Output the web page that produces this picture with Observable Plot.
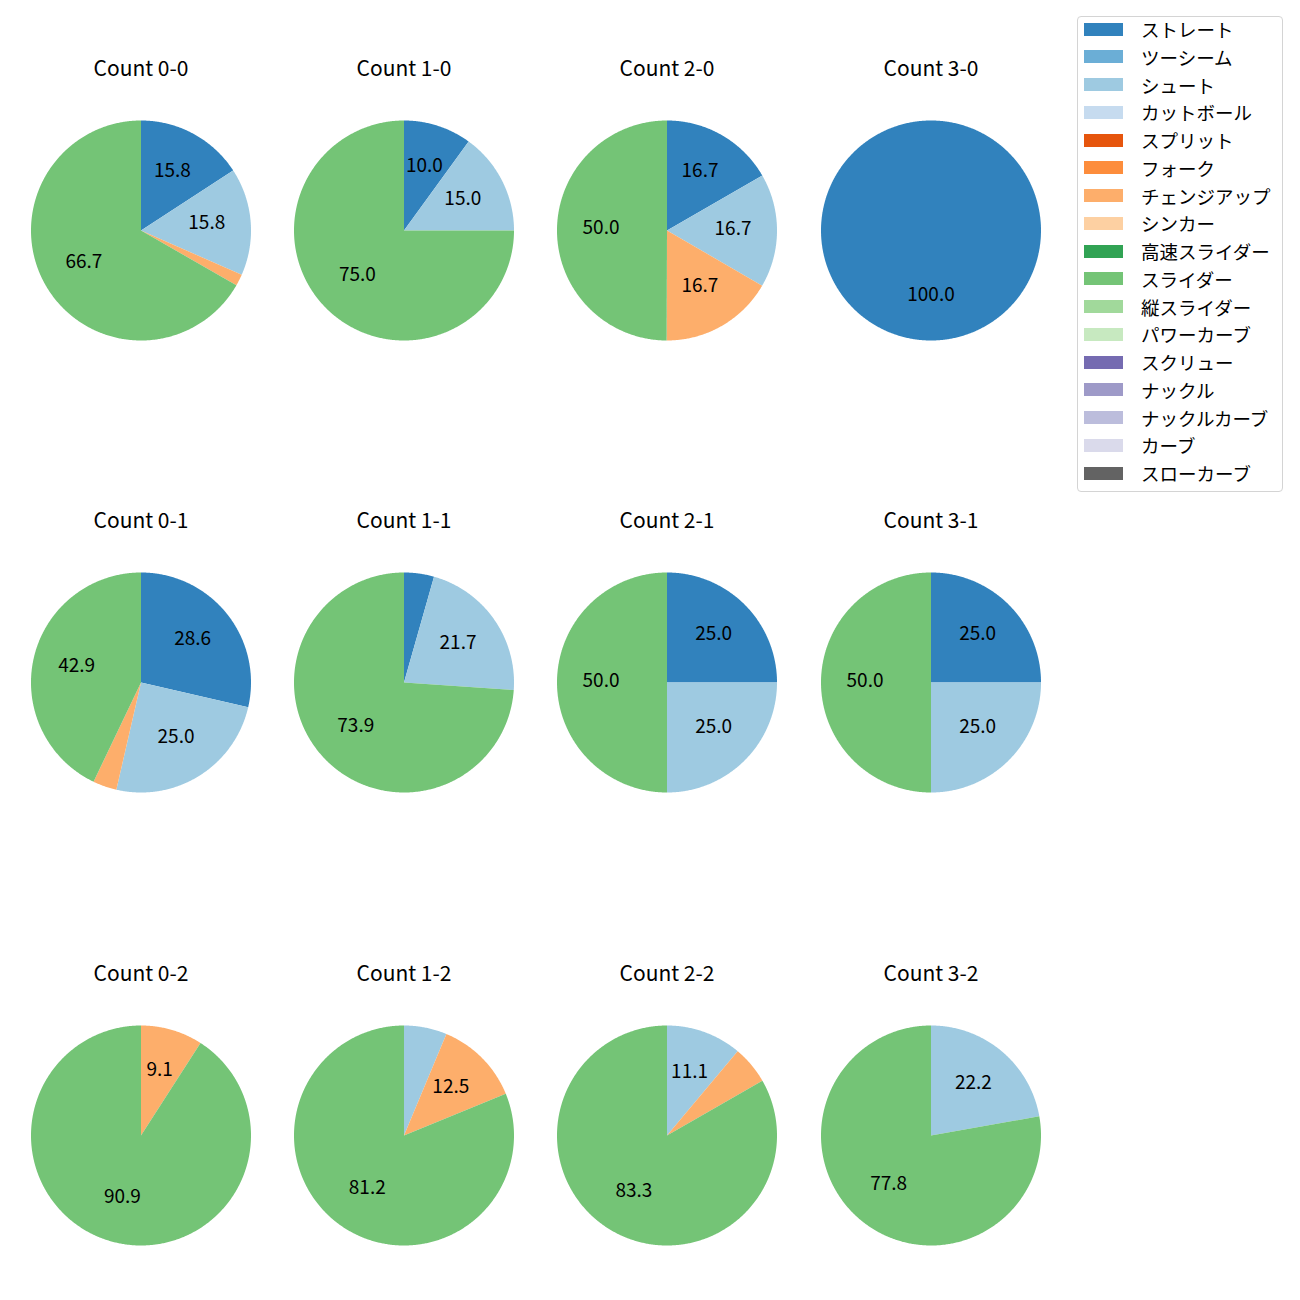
<!DOCTYPE html>
<html><head><meta charset="utf-8">
<script src="https://cdn.jsdelivr.net/npm/d3@7"></script>
<script src="https://cdn.jsdelivr.net/npm/@observablehq/plot@0.6"></script>
<style>
body{margin:0;background:#fff;font-family:"Noto Sans CJK JP",sans-serif;}
#chart{position:relative;width:1300px;height:1300px;background:#fff;}
.pie{position:absolute;}
#legend{position:absolute;left:1077px;top:16px;width:206px;height:476px;border:1px solid #d4d4d4;border-radius:4px;box-sizing:border-box;background:#fff;}
.item{position:absolute;left:6px;height:20px;display:flex;align-items:center;font-size:18.5px;color:#000;white-space:nowrap;line-height:20px;}
.sw{width:39px;height:13px;margin-right:18px;flex:none;}
</style></head><body><div id="chart"></div>
<script>
const pitchTypes = ["ストレート","ツーシーム","シュート","カットボール","スプリット","フォーク","チェンジアップ","シンカー","高速スライダー","スライダー","縦スライダー","パワーカーブ","スクリュー","ナックル","ナックルカーブ","カーブ","スローカーブ"];
const pitchColors = ["#3182bd","#6baed6","#9ecae1","#c6dbef","#e6550d","#fd8d3c","#fdae6b","#fdd0a2","#31a354","#74c476","#a1d99b","#c7e9c0","#756bb1","#9e9ac8","#bcbddc","#dadaeb","#636363"];
const countLabels = ["Count 0-0","Count 1-0","Count 2-0","Count 3-0","Count 0-1","Count 1-1","Count 2-1","Count 3-1","Count 0-2","Count 1-2","Count 2-2","Count 3-2"];
// shares (%) per count, in pitchTypes order
const shares = [
  [15.8,0,15.8,0,0,0,1.7,0,0,66.7,0,0,0,0,0,0,0],
  [10.0,0,15.0,0,0,0,0,0,0,75.0,0,0,0,0,0,0,0],
  [16.7,0,16.7,0,0,0,16.7,0,0,50.0,0,0,0,0,0,0,0],
  [100.0,0,0,0,0,0,0,0,0,0,0,0,0,0,0,0,0],
  [28.6,0,25.0,0,0,0,3.5,0,0,42.9,0,0,0,0,0,0,0],
  [4.4,0,21.7,0,0,0,0,0,0,73.9,0,0,0,0,0,0,0],
  [25.0,0,25.0,0,0,0,0,0,0,50.0,0,0,0,0,0,0,0],
  [25.0,0,25.0,0,0,0,0,0,0,50.0,0,0,0,0,0,0,0],
  [0,0,0,0,0,0,9.1,0,0,90.9,0,0,0,0,0,0,0],
  [0,0,6.3,0,0,0,12.5,0,0,81.2,0,0,0,0,0,0,0],
  [0,0,11.1,0,0,0,5.6,0,0,83.3,0,0,0,0,0,0,0],
  [0,0,22.2,0,0,0,0,0,0,77.8,0,0,0,0,0,0,0]
];

const R = 110, W = 263, H = 300, CY = 170;
const colX = c => 140.5 + 263.2 * c;
const rowY = r => 229.5 + 452.5 * r;
const FONT = '"Noto Sans CJK JP", "Noto Sans", sans-serif';

function pieGeometry(values) {
  const total = d3.sum(values);
  let cum = 0;
  const polys = [], labels = [];
  values.forEach((v, i) => {
    if (!v) return;
    const a0 = Math.PI / 2 - 2 * Math.PI * cum / total;
    const a1 = Math.PI / 2 - 2 * Math.PI * (cum + v) / total;
    cum += v;
    const n = Math.max(2, Math.ceil(Math.abs(a1 - a0) / (Math.PI / 360)));
    if (v < total) polys.push({pitch: pitchTypes[i], x: 0, y: 0});
    for (let k = 0; k <= n; k++) {
      const a = a0 + (a1 - a0) * k / n;
      polys.push({pitch: pitchTypes[i], x: Math.cos(a), y: Math.sin(a)});
    }
    const am = (a0 + a1) / 2;
    const pct = 100 * v / total;
    if (pct >= 8) labels.push({x: 0.6 * Math.cos(am), y: 0.6 * Math.sin(am), text: pct.toFixed(1)});
  });
  return {polys, labels};
}

const chart = document.getElementById("chart");
countLabels.forEach((title, idx) => {
  const c = idx % 4, r = Math.floor(idx / 4);
  const {polys, labels} = pieGeometry(shares[idx]);
  const svg = Plot.plot({
    width: W, height: H, margin: 0,
    x: {domain: [-W / 2 / R, W / 2 / R], axis: null},
    y: {domain: [-(H - CY) / R, CY / R], axis: null},
    color: {domain: pitchTypes, range: pitchColors},
    style: {fontFamily: FONT, background: "transparent", overflow: "visible"},
    marks: [
      Plot.line(polys, {x: "x", y: "y", z: "pitch", fill: "pitch", stroke: "none", curve: "linear-closed"}),
      Plot.text(labels, {x: "x", y: "y", text: "text", fontSize: 19, fill: "#000", fontFamily: FONT, dy: -2}),
      Plot.text([{x: 0, y: 161 / R, text: title}], {x: "x", y: "y", text: "text", fontSize: 21, fill: "#000", fontFamily: FONT, letterSpacing: "0.5px"})
    ]
  });
  svg.classList.add("pie");
  svg.style.left = (colX(c) - W / 2) + "px";
  svg.style.top = (rowY(r) - CY) + "px";
  chart.appendChild(svg);
});

const legend = document.createElement("div");
legend.id = "legend";
pitchTypes.forEach((p, i) => {
  const item = document.createElement("div");
  item.className = "item";
  item.style.top = (13 + 27.75 * i - 10 - 1) + "px";
  const sw = document.createElement("div");
  sw.className = "sw";
  sw.style.background = pitchColors[i];
  const t = document.createElement("span");
  t.textContent = p;
  item.appendChild(sw); item.appendChild(t);
  legend.appendChild(item);
});
chart.appendChild(legend);
</script></body></html>
